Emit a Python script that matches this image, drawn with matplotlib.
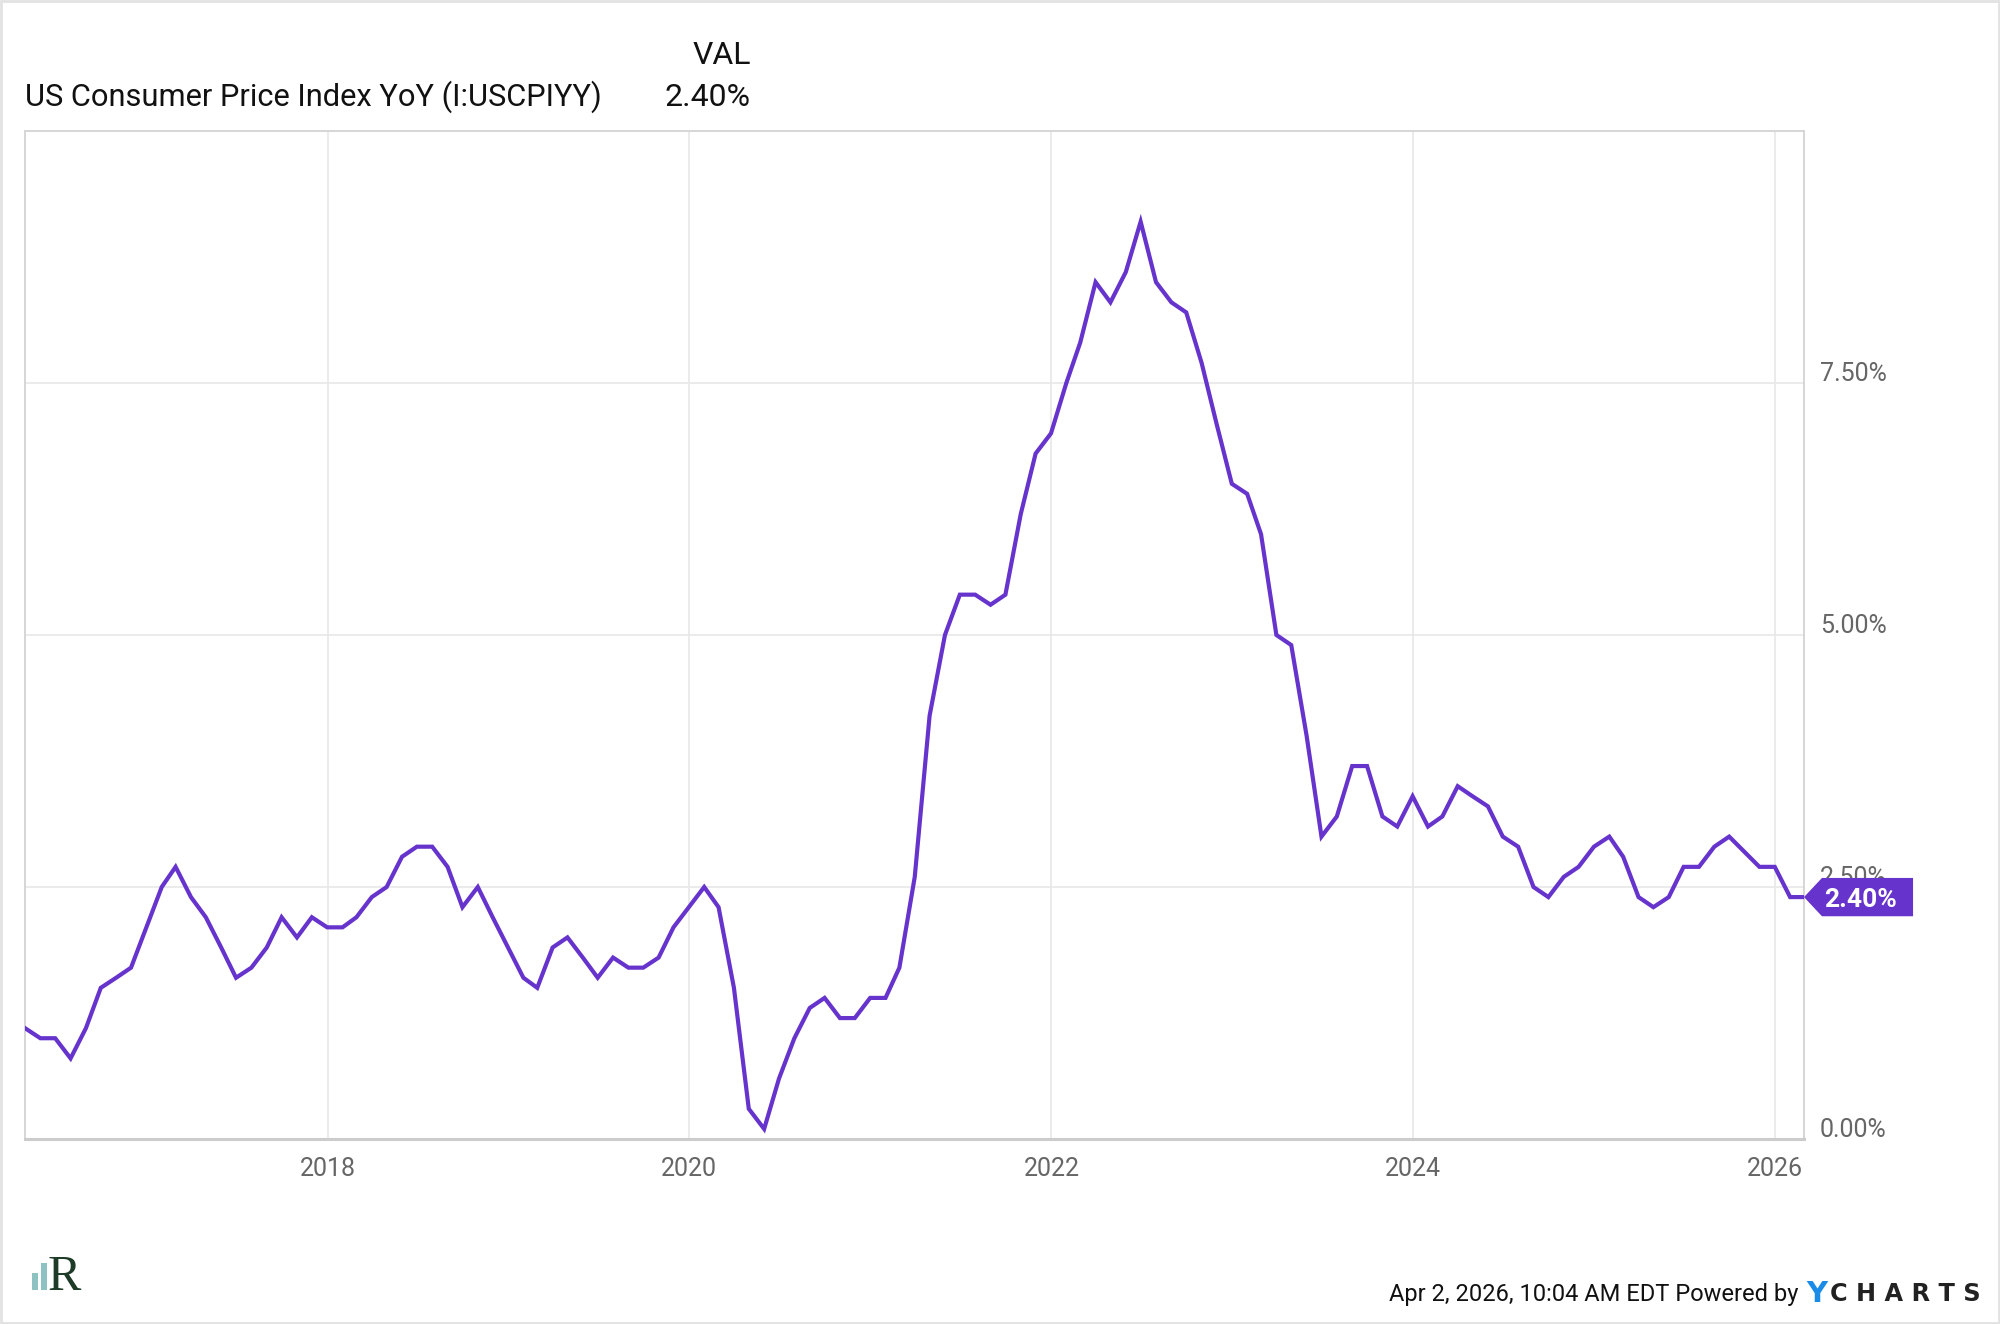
import numpy as np
import pandas as pd
import matplotlib
matplotlib.use('Agg')
import matplotlib.pyplot as plt
import matplotlib.transforms as mtransforms
from matplotlib import font_manager
from matplotlib.patches import Polygon, Rectangle

# month-end observations, Apr 2016 .. Feb 2026 (no Oct 2025 print)
first_month = '2016-04-30'
last_month = '2026-02-28'
missing_months = ['2025-10-31']
cpi_yoy = [
    1.1, 1.0, 1.0, 0.8, 1.1, 1.5, 1.6, 1.7, 2.1,
    2.5, 2.7, 2.4, 2.2, 1.9, 1.6, 1.7, 1.9, 2.2, 2.0, 2.2, 2.1,
    2.1, 2.2, 2.4, 2.5, 2.8, 2.9, 2.9, 2.7, 2.3, 2.5, 2.2, 1.9,
    1.6, 1.5, 1.9, 2.0, 1.8, 1.6, 1.8, 1.7, 1.7, 1.8, 2.1, 2.3,
    2.5, 2.3, 1.5, 0.3, 0.1, 0.6, 1.0, 1.3, 1.4, 1.2, 1.2, 1.4,
    1.4, 1.7, 2.6, 4.2, 5.0, 5.4, 5.4, 5.3, 5.4, 6.2, 6.8, 7.0,
    7.5, 7.9, 8.5, 8.3, 8.6, 9.1, 8.5, 8.3, 8.2, 7.7, 7.1, 6.5,
    6.4, 6.0, 5.0, 4.9, 4.0, 3.0, 3.2, 3.7, 3.7, 3.2, 3.1, 3.4,
    3.1, 3.2, 3.5, 3.4, 3.3, 3.0, 2.9, 2.5, 2.4, 2.6, 2.7, 2.9,
    3.0, 2.8, 2.4, 2.3, 2.4, 2.7, 2.7, 2.9, 3.0, 2.7, 2.7,
    2.4, 2.4,
]
year_ticks = ['2018-01-01', '2020-01-01', '2022-01-01', '2024-01-01', '2026-01-01']
year_labels = ['2018', '2020', '2022', '2024', '2026']
y_ticks = [0.0, 2.5, 5.0, 7.5]

dates = pd.date_range(first_month, last_month, freq='ME')
dates = dates[~dates.isin(pd.to_datetime(missing_months))]
series = pd.Series(cpi_yoy, index=dates)

# condensed font if we have one, Roboto otherwise
names = {f.name for f in font_manager.fontManager.ttflist}
narrow = 'Liberation Sans Narrow' if 'Liberation Sans Narrow' in names else 'Roboto'
plt.rcParams['font.family'] = [narrow, 'DejaVu Sans']

purple = '#6633cc'
grey_txt = '#666666'

fig = plt.figure(figsize=(20, 13.24), dpi=100)
ax = fig.add_axes([0.0125, 0.1397, 0.8895, 0.7614])

ax.plot(series.index, series.values, color=purple, lw=3.0, solid_joinstyle='miter', zorder=3)
ax.set_xlim(pd.Timestamp(first_month), pd.Timestamp(last_month))
ax.set_ylim(0, 10)

ax.set_xticks(pd.to_datetime(year_ticks))
ax.set_xticklabels(year_labels)
ax.set_yticks(y_ticks)
ax.set_yticklabels([])
ax.tick_params(axis='x', length=0, pad=13, labelsize=18, labelcolor=grey_txt)
ax.tick_params(axis='y', length=0)
ax.grid(True, color='#e8e8e8', lw=1.2)
ax.set_axisbelow(True)
for side in ['top', 'left', 'right']:
    ax.spines[side].set_color('#d6d6d6')
    ax.spines[side].set_linewidth(1.4)
ax.spines['bottom'].set_color('#cccccc')
ax.spines['bottom'].set_linewidth(2.2)

# right side value labels sit just above their gridline
blend = mtransforms.blended_transform_factory(ax.transAxes, ax.transData)
for v in y_ticks:
    ax.annotate(f'{v:.2f}%', xy=(1, v), xycoords=blend, xytext=(16, 2),
                textcoords='offset pixels', ha='left', va='baseline',
                fontsize=18, color=grey_txt, annotation_clip=False, zorder=4)

# last value tag
last = series.iloc[-1]
tag = Polygon([(1.0, last), (1.0101, last + 0.19), (1.0613, last + 0.19),
               (1.0613, last - 0.19), (1.0101, last - 0.19)],
              closed=True, transform=blend, facecolor=purple, edgecolor='none',
              clip_on=False, zorder=6)
ax.add_patch(tag)
ax.text(1.0316, last, f'{last:.2f}%', transform=blend, ha='center', va='center_baseline',
        fontsize=19, fontweight='bold', color='white', zorder=7, clip_on=False)

# header
fig.text(0.0125, 1 - 97 / 1324, 'US Consumer Price Index YoY (I:USCPIYY)',
         ha='left', va='center', fontsize=22.2, color='#111111')
fig.text(751 / 2000, 1 - 56 / 1324, 'VAL', ha='right', va='center', fontsize=23, color='#111111')
fig.text(751 / 2000, 1 - 97 / 1324, f'{last:.2f}%', ha='right', va='center', fontsize=23, color='#111111')

# footer
fig.text(1798 / 2000, 1 - 1294 / 1324, 'Apr 2, 2026, 10:04 AM EDT Powered by',
         ha='right', va='center', fontsize=17, color='#111111')
fig.text(1806 / 2000, 1 - 1294 / 1324, 'Y', ha='left', va='center', fontsize=21,
         fontweight='bold', color='#1a8ce8', family='DejaVu Sans')
fig.text(1830 / 2000, 1 - 1294 / 1324, 'C H A R T S', ha='left', va='center', fontsize=17.3,
         fontweight='bold', color='#222222', family='DejaVu Sans')

# little logo bottom left
fig.patches.append(Rectangle((32 / 2000, 1 - 1290 / 1324), 6 / 2000, 17 / 1324,
                             transform=fig.transFigure, facecolor='#8cc2c2', edgecolor='none'))
fig.patches.append(Rectangle((41 / 2000, 1 - 1290 / 1324), 6 / 2000, 27 / 1324,
                             transform=fig.transFigure, facecolor='#8cc2c2', edgecolor='none'))
fig.text(48 / 2000, 1 - 1290 / 1324, 'R', ha='left', va='baseline', fontsize=36,
         color='#1d3b26', family='Liberation Serif')

# thin frame around the whole picture
fig.patches.append(Rectangle((0.0005, 0.0008), 0.999, 0.9984, transform=fig.transFigure,
                             facecolor='none', edgecolor='#e2e2e2', lw=2))

plt.savefig('out.png', dpi=100)
